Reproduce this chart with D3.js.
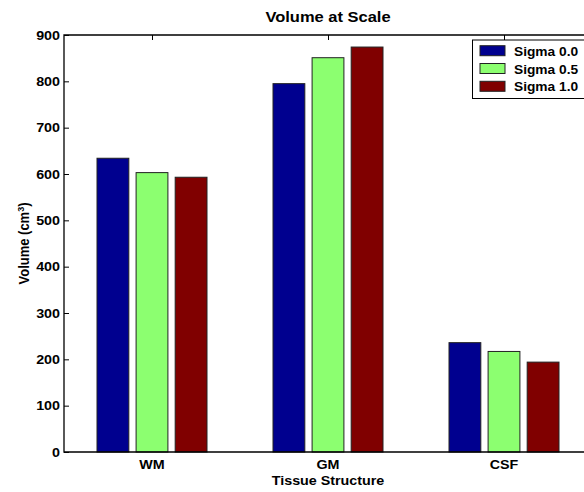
<!DOCTYPE html>
<html>
<head>
<meta charset="utf-8">
<script src="https://cdn.jsdelivr.net/npm/d3@7"></script>
<style>
  html, body { margin: 0; background: #fff; overflow: hidden; }
  svg { display: block; }
  svg text { font-family: "Liberation Sans", Arial, Helvetica, sans-serif; font-weight: bold; fill: #000; }
</style>
</head>
<body>
<svg id="chart" width="584" height="492"></svg>
<script>
// Volume at Scale - grouped bars (MATLAB style)

const categories = ['WM', 'GM', 'CSF']
const seriesNames = ['Sigma 0.0', 'Sigma 0.5', 'Sigma 1.0']
const sigma00 = [634, 795, 236]
const sigma05 = [603, 851, 217]
const sigma10 = [593, 874, 194]
const yTicks = [0, 100, 200, 300, 400, 500, 600, 700, 800, 900]
const colors = ['#00008f', '#8cff70', '#800000']

const seriesValues = [sigma00, sigma05, sigma10]

// plot box (right edge runs past the window, like the source figure)
const plotLeft = 64, plotTop = 35, plotRight = 592, plotBottom = 452
// the source text is a bit wider than it is tall
const stretchX = 1.1

const svg = d3.select('#chart')

// category index -> px (xlim 0.5 .. 3.5)
const x = d3.scaleLinear().domain([0.5, 3.5]).range([plotLeft, plotRight])
const y = d3.scaleLinear().domain([0, 900]).range([plotBottom, plotTop])
// bar offsets inside a group, in x units
const xSub = d3.scaleBand().domain(seriesNames).range([-0.3125, 0.3125]).paddingInner(0.186)

// put a text at (tx,ty) and widen it horizontally
function stretch (sel, tx, ty) {
  sel.attr('transform', function (d, i) {
    const px = typeof tx === 'function' ? tx(d, i) : tx
    const py = typeof ty === 'function' ? ty(d, i) : ty
    return `translate(${px},${py}) scale(${stretchX},1)`
  })
}

// left axis, ticks pointing inside
const yAxis = svg.append('g')
  .attr('transform', `translate(${plotLeft},0)`)
  .call(d3.axisLeft(y).tickValues(yTicks).tickSizeInner(-5).tickSizeOuter(0).tickPadding(4))
yAxis.select('.domain').remove()
yAxis.selectAll('line').attr('stroke', '#000')
yAxis.attr('font-family', null).attr('font-size', null)
yAxis.selectAll('text')
  .style('font-size', '13px')
  .attr('x', null)
  .call(stretch, -4, 0)

// top axis ticks (no labels)
const topAxis = svg.append('g')
  .attr('transform', `translate(0,${plotTop})`)
  .call(d3.axisTop(x).tickValues([1, 2, 3]).tickSizeInner(-5).tickSizeOuter(0).tickFormat(''))
topAxis.select('.domain').remove()
topAxis.selectAll('line').attr('stroke', '#000')

// bars
const rows = []
seriesNames.forEach((s, si) => {
  categories.forEach((c, ci) => {
    rows.push({ series: s, si: si, cat: c, ci: ci, value: seriesValues[si][ci] })
  })
})

const bw = x(xSub.bandwidth()) - x(0)
svg.append('g')
  .selectAll('rect')
  .data(rows)
  .join('rect')
  .attr('x', d => x(d.ci + 1 + xSub(d.series)))
  .attr('y', d => y(d.value))
  .attr('width', bw)
  .attr('height', d => y(0) - y(d.value))
  .attr('fill', d => colors[d.si])
  .attr('stroke', '#222')
  .attr('stroke-width', 1)

// category labels
svg.append('g')
  .selectAll('text')
  .data(categories)
  .join('text')
  .attr('text-anchor', 'middle')
  .style('font-size', '13px')
  .text(d => d)
  .call(stretch, (d, i) => x(i + 1), 469)

// plot frame lines
svg.append('path')
  .attr('d', `M${plotRight},${plotTop}H${plotLeft}V${plotBottom}H${plotRight}`)
  .attr('fill', 'none')
  .attr('stroke', '#000')
  .attr('stroke-width', 1.3)

// title and axis labels
svg.append('text')
  .attr('text-anchor', 'middle')
  .style('font-size', '15px')
  .text('Volume at Scale')
  .call(stretch, x(2), 22)

svg.append('text')
  .attr('text-anchor', 'middle')
  .style('font-size', '13px')
  .text('Tissue Structure')
  .call(stretch, x(2), 485)

const yl = svg.append('text')
  .attr('transform', `translate(29,${(plotTop + plotBottom) / 2}) scale(${stretchX},1) rotate(-90)`)
  .attr('text-anchor', 'middle')
  .style('font-size', '13px')
yl.append('tspan').text('Volume (cm')
yl.append('tspan').attr('dy', -5).style('font-size', '9px').text('3')
yl.append('tspan').attr('dy', 5).text(')')

// legend
const legY = d3.scalePoint().domain(seriesNames).range([50.7, 86.3])
const leg = svg.append('g')
leg.append('rect')
  .attr('x', 472.5).attr('y', 40)
  .attr('width', 140).attr('height', 58.5)
  .attr('fill', '#fff')
  .attr('stroke', '#000')
  .attr('stroke-width', 1)
const items = leg.selectAll('g.item')
  .data(seriesNames)
  .join('g')
  .attr('class', 'item')
  .attr('transform', d => `translate(0,${legY(d)})`)
items.append('rect')
  .attr('x', 480).attr('y', -5)
  .attr('width', 25).attr('height', 10)
  .attr('fill', (d, i) => colors[i])
  .attr('stroke', '#222')
items.append('text')
  .style('font-size', '12.5px')
  .text(d => d)
  .call(stretch, 514, 5)
</script>
</body>
</html>
